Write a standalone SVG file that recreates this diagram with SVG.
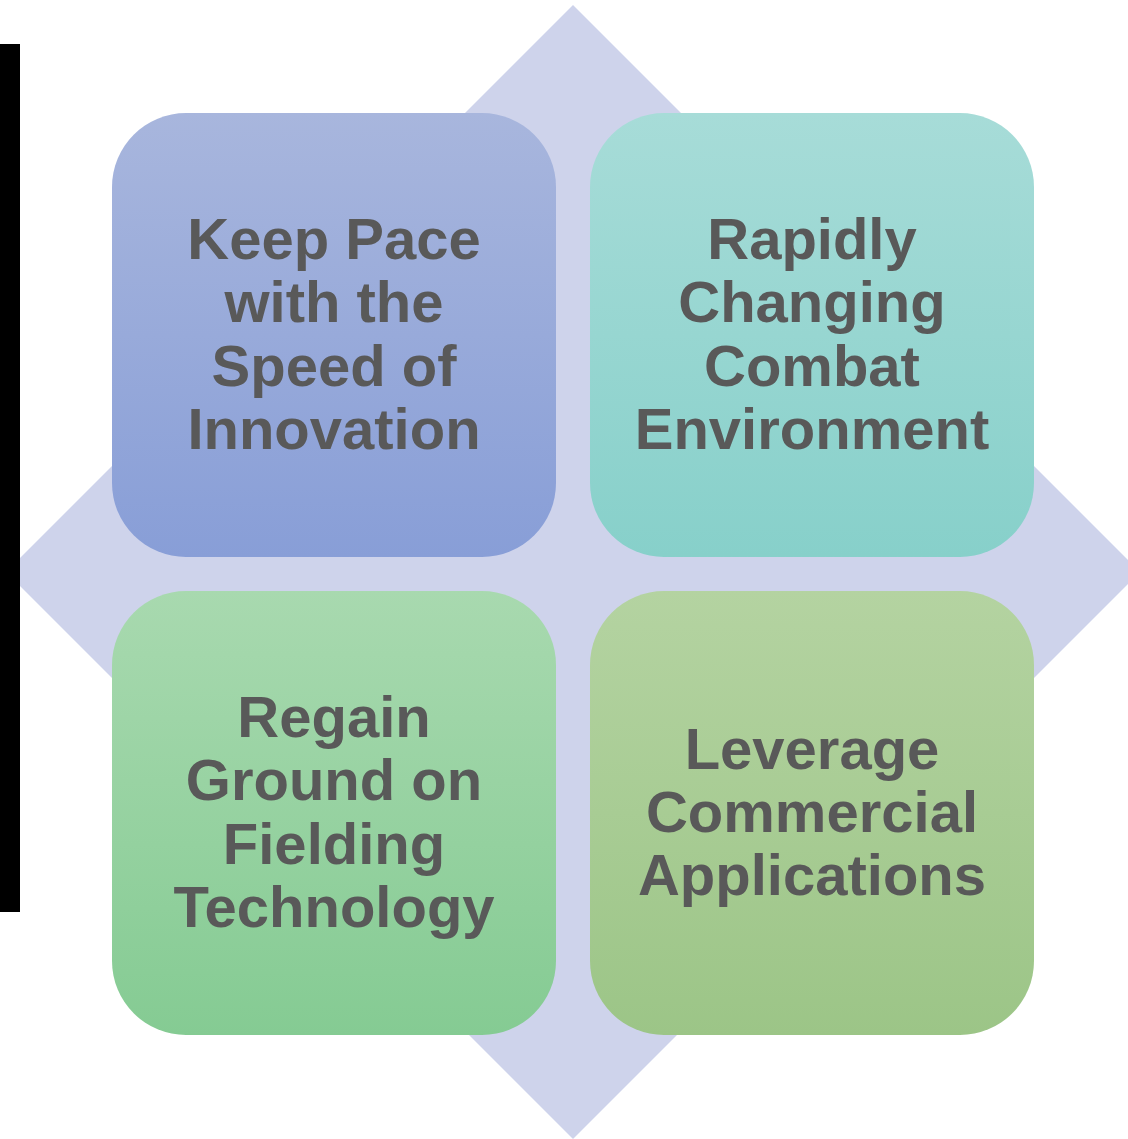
<svg xmlns="http://www.w3.org/2000/svg" width="1128" height="1139" viewBox="0 0 1128 1139">
  <defs>
    <linearGradient id="gBlue" x1="0" y1="0" x2="0" y2="1">
      <stop offset="0" stop-color="#A8B6DD"/>
      <stop offset="1" stop-color="#889ED7"/>
    </linearGradient>
    <linearGradient id="gTeal" x1="0" y1="0" x2="0" y2="1">
      <stop offset="0" stop-color="#A7DCD8"/>
      <stop offset="1" stop-color="#87D0CA"/>
    </linearGradient>
    <linearGradient id="gGreen" x1="0" y1="0" x2="0" y2="1">
      <stop offset="0" stop-color="#A8D9AF"/>
      <stop offset="1" stop-color="#85CB93"/>
    </linearGradient>
    <linearGradient id="gOlive" x1="0" y1="0" x2="0" y2="1">
      <stop offset="0" stop-color="#B4D3A1"/>
      <stop offset="1" stop-color="#9CC587"/>
    </linearGradient>
  </defs>
  <style>
    .lbl { font-family: "Liberation Sans", Arial, sans-serif; font-weight: bold; font-size: 58px; fill: #595959; text-anchor: middle; }
  </style>
  <rect width="1128" height="1139" fill="#FFFFFF"/>
  <polygon id="diamond" points="573,5 1140,572 573,1139 6,572" fill="#CED3EB"/>
  <rect id="bar" x="0" y="44" width="20" height="868" fill="#000000"/>
  <g id="node-keep-pace">
    <rect x="112" y="113" width="444" height="444" rx="74" ry="74" fill="url(#gBlue)"/>
    <text class="lbl" x="334" y="259">Keep Pace</text>
    <text class="lbl" x="334" y="322">with the</text>
    <text class="lbl" x="334" y="386">Speed of</text>
    <text class="lbl" x="334" y="449">Innovation</text>
  </g>
  <g id="node-rapidly-changing">
    <rect x="590" y="113" width="444" height="444" rx="74" ry="74" fill="url(#gTeal)"/>
    <text class="lbl" x="812" y="259">Rapidly</text>
    <text class="lbl" x="812" y="322">Changing</text>
    <text class="lbl" x="812" y="386">Combat</text>
    <text class="lbl" x="812" y="449">Environment</text>
  </g>
  <g id="node-regain-ground">
    <rect x="112" y="591" width="444" height="444" rx="74" ry="74" fill="url(#gGreen)"/>
    <text class="lbl" x="334" y="737">Regain</text>
    <text class="lbl" x="334" y="800">Ground on</text>
    <text class="lbl" x="334" y="864">Fielding</text>
    <text class="lbl" x="334" y="927">Technology</text>
  </g>
  <g id="node-leverage">
    <rect x="590" y="591" width="444" height="444" rx="74" ry="74" fill="url(#gOlive)"/>
    <text class="lbl" x="812" y="769">Leverage</text>
    <text class="lbl" x="812" y="832">Commercial</text>
    <text class="lbl" x="812" y="895">Applications</text>
  </g>
  <g id="connectors"/>
</svg>
